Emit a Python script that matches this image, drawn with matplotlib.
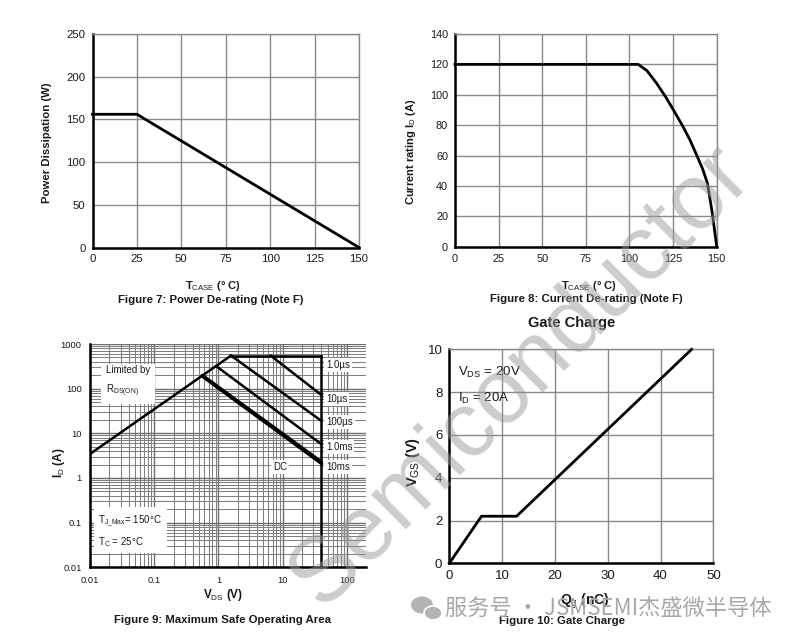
import matplotlib
matplotlib.use("Agg")
import matplotlib.pyplot as plt
from matplotlib.patches import Ellipse
from matplotlib.ticker import FixedLocator, LogLocator, NullFormatter

plt.rcParams['font.family'] = ['Liberation Sans', 'DejaVu Sans']
plt.rcParams['mathtext.fontset'] = 'custom'
plt.rcParams['mathtext.rm'] = 'Liberation Sans'
plt.rcParams['mathtext.bf'] = 'Liberation Sans:bold'
plt.rcParams['mathtext.default'] = 'regular'

# ---------------- data ----------------
# Figure 7: power de-rating
pd_temp = [0, 25, 150]
pd_power = [156, 156, 0]
pd_xticks = [0, 25, 50, 75, 100, 125, 150]
pd_yticks = [0, 50, 100, 150, 200, 250]

# Figure 8: current de-rating
cd_temp = [0, 105, 110, 115.6, 121.3, 125.2, 130, 134.7, 139, 142, 144.7, 147.5, 150]
cd_current = [120, 120, 115.9, 107.5, 97.6, 90, 80.5, 70.2, 59, 51, 41.7, 22, 0]
cd_xticks = [0, 25, 50, 75, 100, 125, 150]
cd_yticks = [0, 20, 40, 60, 80, 100, 120, 140]

# Figure 9: SOA
soa_rds_v = [0.01, 1.57]
soa_rds_i = [3.45, 550]
soa_top_v = [1.57, 40]
soa_top_i = [550, 550]
soa_vmax_v = [40, 40]
soa_vmax_i = [550, 0.01]
soa_pulse_names = ["10µs", "100µs", "1.0ms", "10ms", "DC"]
soa_pulse_v = [[6.5, 40], [1.57, 40], [0.92, 40], [0.57, 40], [0.55, 40]]
soa_pulse_i = [[550, 72], [550, 19], [320, 5.7], [200, 2.35], [192, 2.1]]
soa_xticks = [0.01, 0.1, 1, 10, 100]
soa_xticklabels = ["0.01", "0.1", "1", "10", "100"]
soa_yticks = [0.01, 0.1, 1, 10, 100, 1000]
soa_yticklabels = ["0.01", "0.1", "1", "10", "100", "1000"]
soa_labels = ["1.0µs", "10µs", "100µs", "1.0ms", "10ms"]
soa_label_y = [340, 59, 18, 4.9, 1.8]

# Figure 10: gate charge
gc_q = [0, 6.1, 12.75, 45.9]
gc_v = [0, 2.2, 2.2, 10]
gc_xticks = [0, 10, 20, 30, 40, 50]
gc_yticks = [0, 2, 4, 6, 8, 10]

# ---------------- figure ----------------
W, H = 798, 642
fig = plt.figure(figsize=(W / 100, H / 100), dpi=100)
fig.patch.set_facecolor('white')


def rect(l, t, r, b):
    return [l / W, 1 - b / H, (r - l) / W, (b - t) / H]


def fx(x):
    return x / W


def fy(y):
    return 1 - y / H


GRID = '#8a8a8a'
TXT = '#1a1a1a'


def style_axes(ax, tsize, pad=5):
    ax.set_facecolor('none')
    for s in ['left', 'bottom']:
        ax.spines[s].set_color('black')
        ax.spines[s].set_linewidth(1.8)
    for s in ['top', 'right']:
        ax.spines[s].set_color(GRID)
        ax.spines[s].set_linewidth(1.0)
    ax.tick_params(which='both', length=0, labelsize=tsize, colors=TXT, pad=pad)
    ax.set_axisbelow(True)


# ---- Figure 7 ----
ax1 = fig.add_axes(rect(92.5, 34, 359, 247.5))
ax1.plot(pd_temp, pd_power, color='black', lw=2.0, solid_joinstyle='miter', clip_on=False, zorder=5)
ax1.set_xlim(0, 150)
ax1.set_ylim(0, 250)
ax1.set_xticks(pd_xticks)
ax1.set_yticks(pd_yticks)
ax1.grid(True, color=GRID, lw=1.0)
style_axes(ax1, 8.2)
fig.text(fx(47), fy(143), 'Power Dissipation (W)', rotation=90, ha='center', va='center',
         fontsize=8.2, fontweight='bold', color=TXT)
fig.text(fx(213), fy(286), r'T$_{\mathrm{CASE}}$ (° C)', ha='center', va='center', fontsize=8,
         fontweight='bold', color=TXT)
fig.text(fx(211), fy(300), 'Figure 7: Power De-rating (Note F)', ha='center', va='center',
         fontsize=8.2, fontweight='bold', color=TXT)

# ---- Figure 8 ----
ax2 = fig.add_axes(rect(455, 34, 716.7, 246.7))
ax2.plot(cd_temp, cd_current, color='black', lw=2.0, clip_on=False, zorder=5)
ax2.set_xlim(0, 150)
ax2.set_ylim(0, 140)
ax2.set_xticks(cd_xticks)
ax2.set_yticks(cd_yticks)
ax2.grid(True, color=GRID, lw=1.0)
style_axes(ax2, 7.8)
fig.text(fx(411), fy(152), r'Current rating I$_{\mathrm{D}}$ (A)', rotation=90, ha='center', va='center',
         fontsize=8, fontweight='bold', color=TXT)
fig.text(fx(589), fy(286), r'T$_{\mathrm{CASE}}$ (° C)', ha='center', va='center', fontsize=8,
         fontweight='bold', color=TXT)
fig.text(fx(586), fy(299), 'Figure 8: Current De-rating (Note F)', ha='center', va='center',
         fontsize=8.2, fontweight='bold', color=TXT)

# ---- Figure 9 ----
ax3 = fig.add_axes(rect(90, 344, 366, 567.3))
ax3.set_xscale('log')
ax3.set_yscale('log')
ax3.set_xlim(0.01, 198)
ax3.set_ylim(0.01, 1000)
ax3.plot(soa_rds_v, soa_rds_i, color='black', lw=1.8, zorder=5)
ax3.plot(soa_top_v, soa_top_i, color='black', lw=1.8, zorder=5)
ax3.plot(soa_vmax_v, soa_vmax_i, color='black', lw=1.8, zorder=5, clip_on=False)
for name, v, i in zip(soa_pulse_names, soa_pulse_v, soa_pulse_i):
    ax3.plot(v, i, color='black', lw=1.8 if name != 'DC' else 2.2, zorder=5)
ax3.xaxis.set_major_locator(FixedLocator(soa_xticks))
ax3.set_xticklabels(soa_xticklabels)
ax3.yaxis.set_major_locator(FixedLocator(soa_yticks))
ax3.set_yticklabels(soa_yticklabels)
ax3.xaxis.set_minor_locator(LogLocator(base=10, subs=range(2, 10), numticks=20))
ax3.yaxis.set_minor_locator(LogLocator(base=10, subs=range(2, 10), numticks=20))
ax3.xaxis.set_minor_formatter(NullFormatter())
ax3.yaxis.set_minor_formatter(NullFormatter())
ax3.grid(True, which='major', color='#6e6e6e', lw=1.0)
ax3.grid(True, which='minor', color='#808080', lw=0.75)
style_axes(ax3, 6.7, pad=6)
ax3.spines['top'].set_visible(False)
ax3.spines['right'].set_visible(False)
bb = dict(fc='white', ec='none', pad=1.5)
for lab, yy in zip(soa_labels, soa_label_y):
    ax3.text(47, yy, lab, fontsize=7, ha='left', va='center', color=TXT, bbox=bb, zorder=6)
ax3.text(9.0, 1.8, 'DC', fontsize=7, ha='center', va='center', color=TXT, bbox=bb, zorder=6)
ax3.text(0.0175, 140, 'Limited by\n\n' + r'R$_{\mathrm{DS(ON)}}$', fontsize=7, ha='left', va='center',
         color=TXT, linespacing=0.9, bbox=dict(fc='white', ec='none', pad=3.5), zorder=6)
ax3.text(0.0135, 0.065, r'T$_{\mathrm{J\_Max}}$= 150°C' + '\n\n' + r'T$_{\mathrm{C}}$ = 25°C', fontsize=7,
         ha='left', va='center', color=TXT, linespacing=0.75, bbox=dict(fc='white', ec='none', pad=3.5), zorder=6)
fig.text(fx(59), fy(463), r'I$_{\mathrm{D}}$ (A)', rotation=90, ha='center', va='center',
         fontsize=8.5, fontweight='bold', color=TXT)
fig.text(fx(223), fy(595), r'V$_{\mathrm{DS}}$ (V)', ha='center', va='center', fontsize=8.5,
         fontweight='bold', color=TXT)
fig.text(fx(222), fy(620), 'Figure 9: Maximum Safe Operating Area', ha='center', va='center',
         fontsize=8.2, fontweight='bold', color=TXT)

# ---- Figure 10 ----
ax4 = fig.add_axes(rect(449.3, 349.3, 713.3, 563.3))
ax4.plot(gc_q, gc_v, color='black', lw=2.0, zorder=5, clip_on=False)
ax4.set_xlim(0, 50)
ax4.set_ylim(0, 10)
ax4.set_xticks(gc_xticks)
ax4.set_yticks(gc_yticks)
ax4.grid(True, color=GRID, lw=1.0)
style_axes(ax4, 9.5)
ax4.text(1.7, 8.9, r'V$_{\mathrm{DS}}$ = 20V', fontsize=9.5, ha='left', va='center', color=TXT, zorder=6)
ax4.text(1.7, 7.7, r'I$_{\mathrm{D}}$ = 20A', fontsize=9.5, ha='left', va='center', color=TXT, zorder=6)
fig.text(fx(572), fy(323), 'Gate Charge', ha='center', va='center', fontsize=10.5,
         fontweight='bold', color=TXT)
fig.text(fx(413), fy(462), r'V$_{\mathrm{GS}}$ (V)', rotation=90, ha='center', va='center',
         fontsize=10.5, fontweight='bold', color=TXT)
fig.text(fx(585), fy(601), r'Q$_{\mathrm{g}}$ (nC)', ha='center', va='center', fontsize=10,
         fontweight='bold', color=TXT)
fig.text(fx(562), fy(621), 'Figure 10: Gate Charge', ha='center', va='center',
         fontsize=8.2, fontweight='bold', color=TXT)

# ---- watermarks ----
fig.text(fx(521), fy(376), 'Semiconductor', rotation=45, rotation_mode='anchor', ha='center',
         va='center', fontsize=66, color='#9a9a9a', alpha=0.5, zorder=20)
fig.text(fx(445), fy(609), '服务号 · JSMSEMI杰盛微半导体', ha='left', va='center', fontsize=16,
         family=['Noto Sans CJK SC', 'DejaVu Sans'], color='#a8a8a8', zorder=20)
fig.patches.append(Ellipse((fx(422), fy(605)), 22 / W, 17 / H, transform=fig.transFigure,
                           fc='#b4b4b4', ec='none', zorder=20))
fig.patches.append(Ellipse((fx(433), fy(613)), 18 / W, 14 / H, transform=fig.transFigure,
                           fc='#b4b4b4', ec='white', lw=1.2, zorder=21))

fig.savefig('out.png', dpi=100, facecolor='white')
